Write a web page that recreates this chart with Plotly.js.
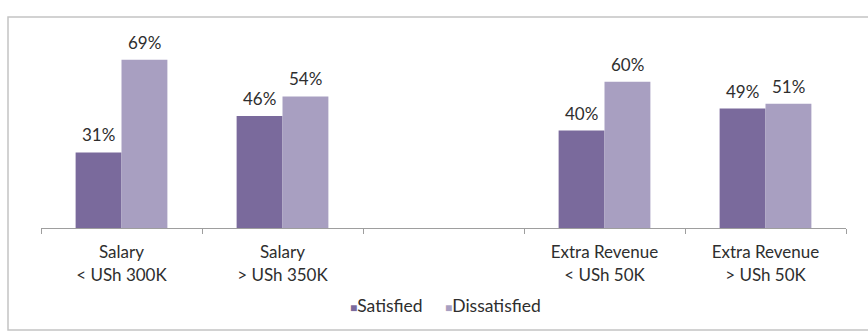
<!DOCTYPE html>
<html>
<head>
<meta charset="utf-8">
<script src="https://cdn.plot.ly/plotly-3.0.1.min.js"></script>
<style>
html,body{margin:0;padding:0;background:#fff;}
#chart{width:868px;height:332px;}
</style>
</head>
<body>
<div id="chart"></div>
<script>
var categories = ["Salary<br>< USh 300K", "Salary<br>> USh 350K", " ", "Extra Revenue<br>< USh 50K", "Extra Revenue<br>> USh 50K"];
var barCategories = ["Salary<br>< USh 300K", "Salary<br>> USh 350K", "Extra Revenue<br>< USh 50K", "Extra Revenue<br>> USh 50K"];
var satisfied = [31, 46, 40, 49];
var dissatisfied = [69, 54, 60, 51];
var seriesNames = ["Satisfied", "Dissatisfied"];
var colors = ["#7a6a9c", "#a89fc1"];

var traces = [
  {type: "bar", name: seriesNames[0], x: barCategories, y: satisfied, marker: {color: colors[0]}, hoverinfo: "skip", showlegend: false},
  {type: "bar", name: seriesNames[1], x: barCategories, y: dissatisfied, marker: {color: colors[1]}, hoverinfo: "skip", showlegend: false}
];

var font = "Lato, 'Open Sans', sans-serif";
var annotations = [];
var barPx = 46;
[satisfied, dissatisfied].forEach(function(vals, s){
  vals.forEach(function(v, i){
    annotations.push({
      x: barCategories[i], y: v, xref: "x", yref: "y",
      text: v + "%", showarrow: false, yanchor: "bottom",
      xshift: (s === 0 ? -1 : 1) * barPx / 2, yshift: 5,
      font: {family: font, size: 17, color: "#2e2e2e"}
    });
  });
});

// legend drawn as a single centred line of text
var legendText = seriesNames.map(function(n, i){
  return "<span style='color:" + colors[i] + ";font-size:12px'>■</span>" + n;
}).join("&nbsp;&nbsp;&nbsp;&nbsp;&nbsp;");
annotations.push({
  xref: "paper", yref: "paper", x: 0.503, y: (228 - 305) / 195,
  xanchor: "center", yanchor: "middle", showarrow: false,
  text: legendText, font: {family: font, size: 17.5, color: "#2e2e2e"}
});

var layout = {
  width: 868, height: 332,
  margin: {l: 41, r: 22, t: 33, b: 104},
  paper_bgcolor: "#ffffff", plot_bgcolor: "#ffffff",
  barmode: "group", bargap: 0.43, bargroupgap: 0,
  showlegend: false,
  xaxis: {type: "category", categoryorder: "array", categoryarray: categories,
          showline: true, linecolor: "#9e9e9e", linewidth: 1,
          ticks: "outside", tickson: "boundaries", ticklen: 5, tickcolor: "#9e9e9e",
          showgrid: false, zeroline: false, ticklabelstandoff: 9,
          tickfont: {family: font, size: 17, color: "#2e2e2e"}},
  yaxis: {range: [0, 80], visible: false, showgrid: false, zeroline: false, fixedrange: true},
  annotations: annotations,
  shapes: [{type: "rect", xref: "paper", yref: "paper",
            x0: (8 - 41) / 805, x1: (880 - 41) / 805,
            y0: (228 - 330) / 195, y1: (228 - 17) / 195,
            line: {color: "#c4c4c4", width: 1.5}, fillcolor: "rgba(0,0,0,0)", layer: "below"}]
};

Plotly.newPlot("chart", traces, layout, {staticPlot: true, displayModeBar: false});
</script>
</body>
</html>
